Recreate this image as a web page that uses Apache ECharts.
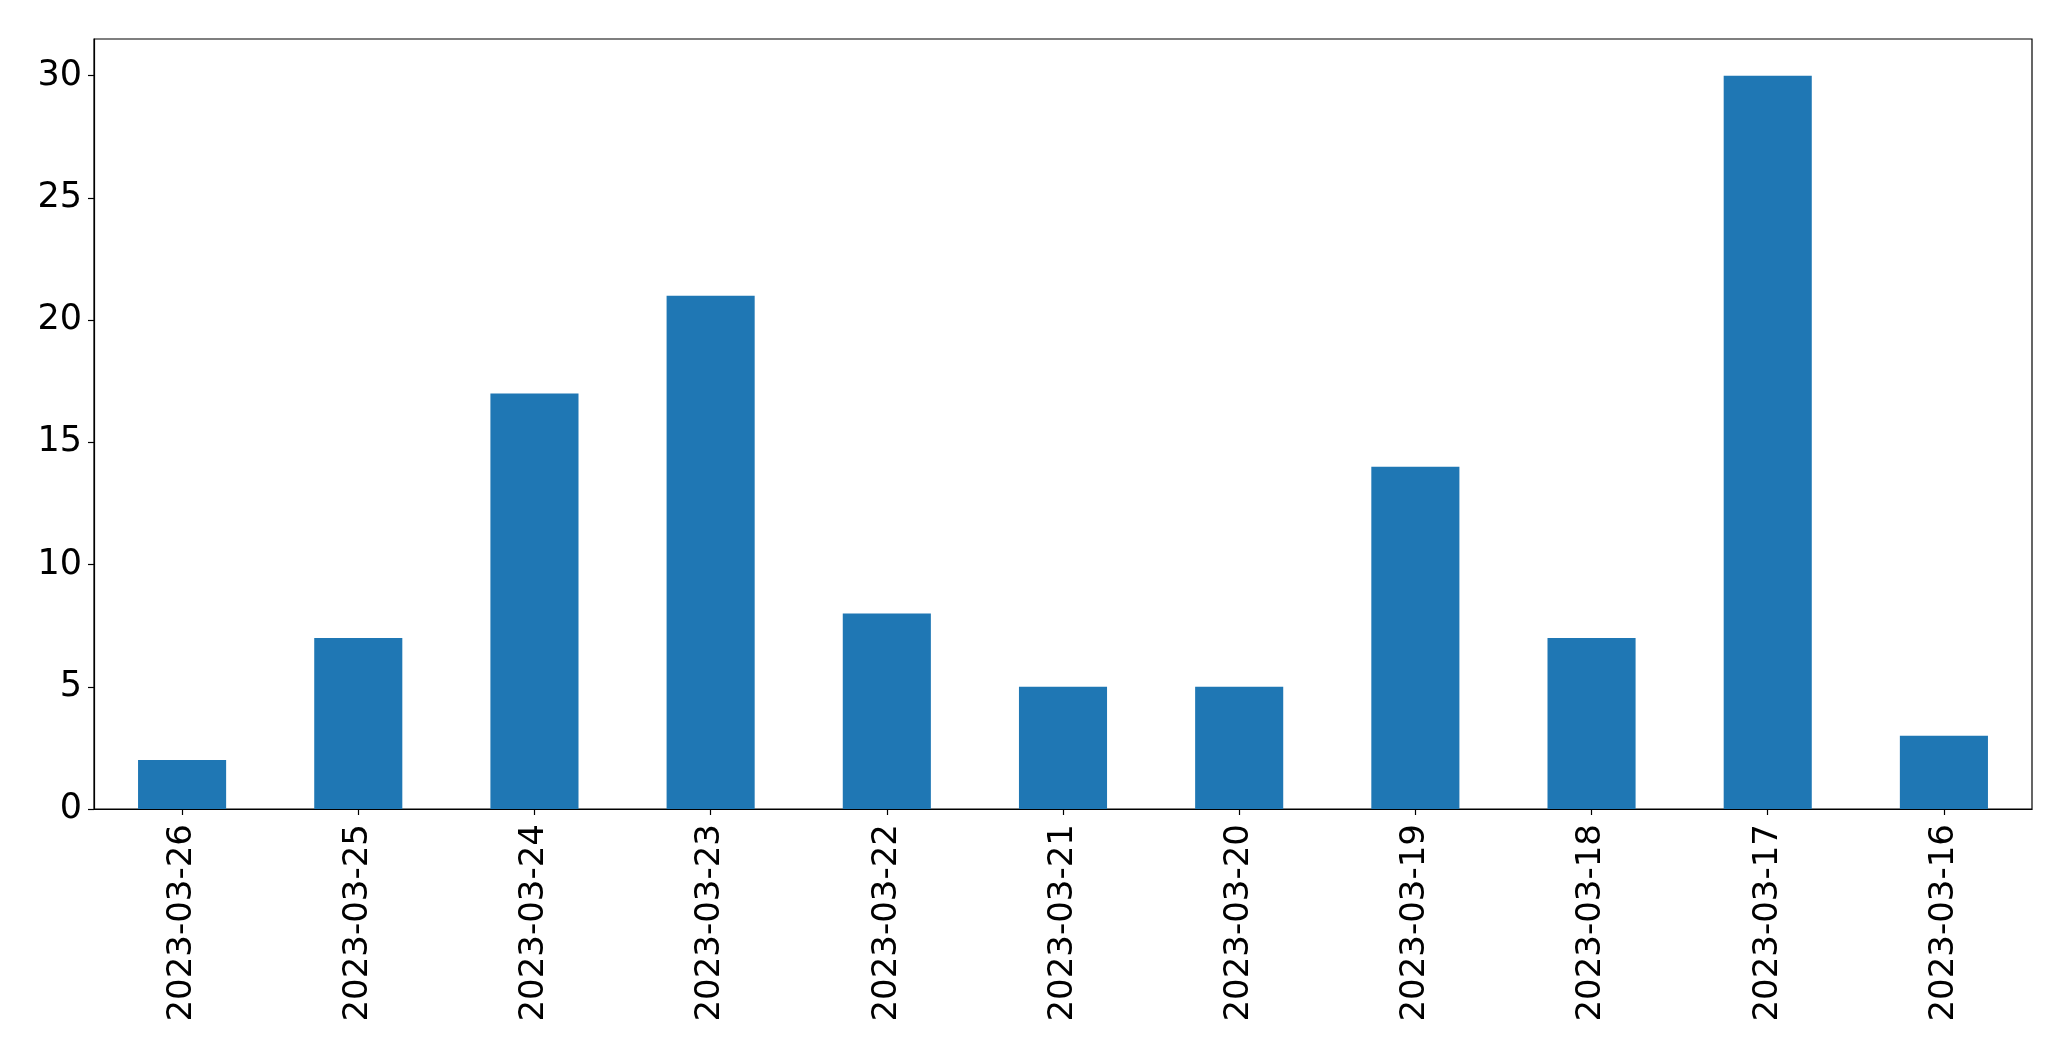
<!DOCTYPE html>
<html><head><meta charset="utf-8">
<script src="https://cdn.jsdelivr.net/npm/echarts@6/dist/echarts.min.js"></script>
<style>html,body{margin:0;padding:0;background:#fff;}#c{width:2071px;height:1061px;}</style>
</head><body><div id="c"></div>
<script>
const categories = ["2023-03-26","2023-03-25","2023-03-24","2023-03-23","2023-03-22","2023-03-21","2023-03-20","2023-03-19","2023-03-18","2023-03-17","2023-03-16"];
const values = [2,7,17,21,8,5,5,14,7,30,3];
const yTicks = [0,5,10,15,20,25,30];

const chart = echarts.init(document.getElementById('c'), null, {renderer:'canvas'});
const font = 'DejaVu Sans';
chart.setOption({
  animation:false,
  grid:{left:94,right:39,top:39,bottom:252,show:true,borderColor:'#000',borderWidth:1.2,backgroundColor:'transparent'},
  xAxis:{type:'category',data:categories,
    axisLine:{show:true,lineStyle:{color:'#000',width:1.2}},
    axisTick:{show:true,alignWithLabel:true,length:6,lineStyle:{color:'#000',width:1.2}},
    axisLabel:{rotate:90,margin:15,fontFamily:font,fontSize:34,color:'#000',interval:0},
    splitLine:{show:false}},
  yAxis:{type:'value',min:0,max:31.5,interval:5,
    axisLine:{show:true,lineStyle:{color:'#000',width:1.2}},
    axisTick:{show:true,length:6,customValues:yTicks,lineStyle:{color:'#000',width:1.2}},
    axisLabel:{margin:12,fontFamily:font,fontSize:35,color:'#000',customValues:yTicks,padding:[3,0,0,0]},
    splitLine:{show:false}},
  series:[{type:'bar',data:values,barWidth:'50%',itemStyle:{color:'#1f77b4'}}]
});
</script></body></html>
